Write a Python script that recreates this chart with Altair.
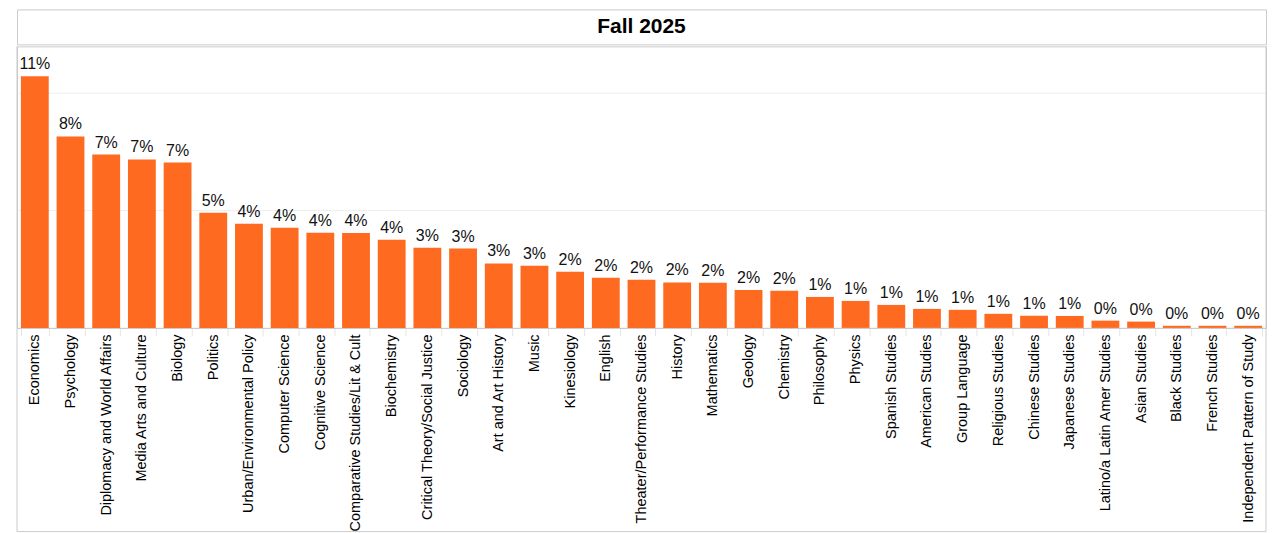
import altair as alt
import pandas as pd

majors = [
    "Economics", "Psychology", "Diplomacy and World Affairs", "Media Arts and Culture",
    "Biology", "Politics", "Urban/Environmental Policy", "Computer Science",
    "Cognitive Science", "Comparative Studies/Lit & Cult", "Biochemistry",
    "Critical Theory/Social Justice", "Sociology", "Art and Art History", "Music",
    "Kinesiology", "English", "Theater/Performance Studies", "History", "Mathematics",
    "Geology", "Chemistry", "Philosophy", "Physics", "Spanish Studies",
    "American Studies", "Group Language", "Religious Studies", "Chinese Studies",
    "Japanese Studies", "Latino/a Latin Amer Studies", "Asian Studies",
    "Black Studies", "French Studies", "Independent Pattern of Study",
]
shares = [
    0.1073, 0.0816, 0.0739, 0.0718, 0.0705, 0.0491, 0.0444, 0.0427, 0.0406,
    0.0405, 0.0376, 0.0342, 0.0338, 0.0275, 0.0265, 0.0239, 0.0214, 0.0205,
    0.0194, 0.0192, 0.0162, 0.0158, 0.0132, 0.0115, 0.0098, 0.0081, 0.0077,
    0.0060, 0.0052, 0.0051, 0.0031, 0.0027, 0.0009, 0.0009, 0.0009,
]
title_text = "Fall 2025"
grid_values = [0.05, 0.10]

df = pd.DataFrame({"major": majors, "share": shares})
grid_df = pd.DataFrame({"g": grid_values})

W = 1251
HEAD_H = 35
PLOT_H = 282
FRAME_BOTTOM = 204
ORANGE = "#ff6a21"
BORDER = "#cbcbcb"
FONT = "Liberation Sans"

y_scale = alt.Scale(domain=[0, 0.12], nice=False)

header = alt.Chart(alt.Data(values=[{"t": title_text}])).mark_text(
    font=FONT, fontSize=21, fontWeight="bold", color="#000000"
).encode(
    text="t:N", x=alt.value(W / 2), y=alt.value(HEAD_H / 2)
).properties(width=W, height=HEAD_H)

grid = alt.Chart(grid_df).mark_rule(color="#eeeeee", strokeWidth=1).encode(
    y=alt.Y("g:Q", scale=y_scale, axis=None)
)

base = alt.Chart(df).encode(
    x=alt.X(
        "major:N", sort=None, title=None,
        scale=alt.Scale(paddingInner=0.22, paddingOuter=0.11),
        axis=alt.Axis(
            labelAngle=-90, labelFont=FONT, labelFontSize=14.5, labelColor="#000000",
            labelPadding=-2, labelLimit=0, tickBand="extent", tickColor="#e4e4e4",
            tickSize=8, domainColor=BORDER,
        ),
    ),
    y=alt.Y("share:Q", title=None, scale=y_scale, axis=None),
)

bars = base.mark_bar(color=ORANGE)
labels = base.mark_text(
    baseline="bottom", dy=-4, font=FONT, fontSize=16, color="#111111"
).encode(text=alt.Text("share:Q", format=".0%"))

frame_data = alt.Data(values=[{}])
left = alt.Chart(frame_data).mark_rule(color=BORDER, clip=False).encode(
    x=alt.value(0), y=alt.value(0), y2=alt.value(PLOT_H + FRAME_BOTTOM)
)
right = alt.Chart(frame_data).mark_rule(color=BORDER, clip=False).encode(
    x=alt.value(W), y=alt.value(0), y2=alt.value(PLOT_H + FRAME_BOTTOM)
)
bottom = alt.Chart(frame_data).mark_rule(color=BORDER, clip=False).encode(
    x=alt.value(0), x2=alt.value(W), y=alt.value(PLOT_H + FRAME_BOTTOM)
)

plot = alt.layer(grid, bars, labels, left, right, bottom).properties(width=W, height=PLOT_H)

chart = alt.vconcat(header, plot, spacing=0).properties(
    padding=0
).configure_view(stroke=BORDER, strokeWidth=1).configure_concat(spacing=0)

chart.save("out.html", embed_options={"renderer": "svg", "actions": False})
